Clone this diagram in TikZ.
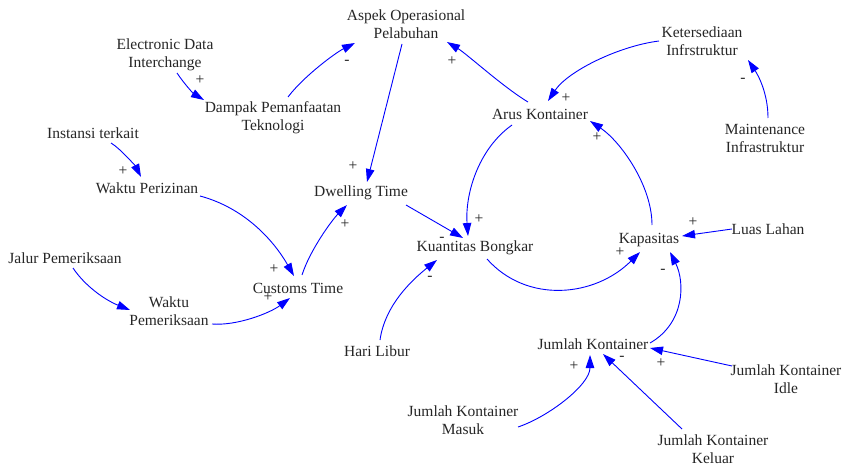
\documentclass[tikz,border=0pt]{standalone}
\usepackage{fontspec}
\setmainfont{Liberation Serif}
\usetikzlibrary{arrows.meta}
\definecolor{lnk}{RGB}{0,0,255}
\begin{document}
\begin{tikzpicture}[x=1pt,y=-1pt,
  var/.style={font=\fontsize{15.5}{18}\selectfont, align=center, inner sep=0pt, text=black!85},
  pol/.style={font=\fontsize{15.5}{18}\selectfont, inner sep=0pt, text=black!85},
  cl/.style={draw=lnk, line width=0.9pt, -{Triangle[length=13pt,width=8.5pt,fill=lnk]}}]
\useasboundingbox[fill=white] (0,0) rectangle (853,465);
% variables
\node[var] (ao) at (406,24) {Aspek Operasional\\Pelabuhan};
\node[var] (ed) at (165,55) {Electronic Data\\Interchange};
\node[var] (dp) at (273,118) {Dampak Pemanfaatan\\Teknologi};
\node[var] (it) at (93,133) {Instansi terkait};
\node[var] (wp) at (147,188) {Waktu Perizinan};
\node[var] (dt) at (361,193) {Dwelling Time};
\node[var] (ct) at (298,288) {Customs Time};
\node[var] (jp) at (65,258) {Jalur Pemeriksaan};
\node[var] (wm) at (169,311) {Waktu\\Pemeriksaan};
\node[var] (hl) at (377,351) {Hari Libur};
\node[var] (kb) at (475,248) {Kuantitas Bongkar};
\node[var] (ka) at (649,240) {Kapasitas};
\node[var] (ll) at (768,229) {Luas Lahan};
\node[var] (jk) at (593,344) {Jumlah Kontainer};
\node[var] (ji) at (786,379) {Jumlah Kontainer\\Idle};
\node[var] (jm) at (463,420) {Jumlah Kontainer\\Masuk};
\node[var] (jo) at (713,449) {Jumlah Kontainer\\Keluar};
\node[var] (ak) at (540,114) {Arus Kontainer};
\node[var] (ki) at (702,41) {Ketersediaan\\Infrstruktur};
\node[var] (mi) at (765,138) {Maintenance\\Infrastruktur};
% links
\draw[cl] ([shift={(12,18)}]ed.center) .. controls +(8,12) and +(-10,-6) .. ([shift={(-69,-18)}]dp.center);
\draw[cl] ([shift={(15,-21)}]dp.center) .. controls +(15,-20) and +(-20,10) .. ([shift={(-51,19)}]ao.center);
\draw[cl] ([shift={(-4,20)}]ao.center) -- ([shift={(6,-11)}]dt.center);
\draw[cl] ([shift={(18,10)}]it.center) .. controls +(10,6) and +(-5,-10) .. ([shift={(-6,-11)}]wp.center);
\draw[cl] ([shift={(53,8)}]wp.center) .. controls +(45,12) and +(-20,-35) .. ([shift={(-4,-12)}]ct.center);
\draw[cl] ([shift={(4,-13)}]ct.center) .. controls +(8,-25) and +(-15,15) .. ([shift={(-14,12)}]dt.center);
\draw[cl] ([shift={(8,10)}]jp.center) .. controls +(12,18) and +(-25,-10) .. ([shift={(-39,-1)}]wm.center);
\draw[cl] ([shift={(43,13)}]wm.center) .. controls +(25,2) and +(-20,15) .. ([shift={(-8,10)}]ct.center);
\draw[cl] ([shift={(45,12)}]dt.center) -- ([shift={(-12,-10)}]kb.center);
\draw[cl] ([shift={(-28,11)}]ak.center) .. controls +(-35,25) and +(-3,-40) .. ([shift={(-7,-12)}]kb.center);
\draw[cl] ([shift={(12,11)}]kb.center) .. controls +(40,45) and +(-45,45) .. ([shift={(-9,12)}]ka.center);
\draw[cl] ([shift={(3,-15)}]ka.center) .. controls +(0,-40) and +(30,20) .. ([shift={(50,7)}]ak.center);
\draw[cl] ([shift={(-36,0)}]ll.center) -- ([shift={(33,-4)}]ka.center);
\draw[cl] ([shift={(57,-1)}]jk.center) .. controls +(35,-20) and +(15,30) .. ([shift={(21,12)}]ka.center);
\draw[cl] ([shift={(-43,0)}]ki.center) .. controls +(-40,5) and +(20,-30) .. ([shift={(8,-13)}]ak.center);
\draw[cl] ([shift={(3,-20)}]mi.center) .. controls +(0,-25) and +(10,15) .. ([shift={(46,19)}]ki.center);
\draw[cl] ([shift={(-12,-12)}]ak.center) .. controls +(-25,-15) and +(20,12) .. ([shift={(41,18)}]ao.center);
\draw[cl] ([shift={(3,-11)}]hl.center) .. controls +(5,-35) and +(-25,20) .. ([shift={(-38,12)}]kb.center);
\draw[cl] ([shift={(-54,-13)}]ji.center) -- ([shift={(57,4)}]jk.center);
\draw[cl] ([shift={(55,7)}]jm.center) .. controls +(30,-10) and +(0,30) .. ([shift={(-3,11)}]jk.center);
\draw[cl] ([shift={(-31,-20)}]jo.center) -- ([shift={(10,10)}]jk.center);
% polarities
\node[pol] (s1) at (200,80) {+};
\node[pol] (s2) at (347,62) {-};
\node[pol] (s3) at (353,166) {+};
\node[pol] (s4) at (123,171) {+};
\node[pol] (s5) at (274,269) {+};
\node[pol] (s6) at (345,224) {+};
\node[pol] (s7) at (268,297) {+};
\node[pol] (s8) at (442,239) {-};
\node[pol] (s9) at (479,219) {+};
\node[pol] (s10) at (620,252) {+};
\node[pol] (s11) at (597,137) {+};
\node[pol] (s12) at (693,222) {+};
\node[pol] (s13) at (663,271) {-};
\node[pol] (s14) at (566,98) {+};
\node[pol] (s15) at (743,80) {-};
\node[pol] (s16) at (452,61) {+};
\node[pol] (s17) at (430,278) {-};
\node[pol] (s18) at (661,363) {+};
\node[pol] (s19) at (574,366) {+};
\node[pol] (s20) at (622,358) {-};
\end{tikzpicture}
\end{document}
